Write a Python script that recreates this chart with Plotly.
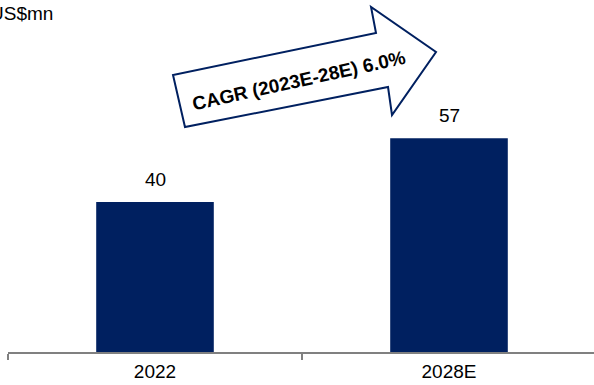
import plotly.graph_objects as go

# Market size data (US$ mn)
years = ["2022", "2028E"]
market_size = [40, 57]
cagr_label = "CAGR (2023E-28E) 6.0%"
unit_label = "US$mn"

BAR_COLOR = "#002060"
FONT = "Arial, Liberation Sans, sans-serif"

W, H = 594, 385
L, B, T, R = 8, 33, 0, 0
plot_w = W - L - R
plot_h = H - B - T


def px(x, y):
    """Convert page pixel position into paper coordinates."""
    return (x - L) / plot_w, (H - B - y) / plot_h


fig = go.Figure()
fig.add_trace(go.Bar(
    x=years,
    y=market_size,
    marker=dict(color=BAR_COLOR, line=dict(width=0)),
    width=0.4,
))

# value labels above bars (category index used as x position)
for i, v in enumerate(market_size):
    fig.add_annotation(
        x=i, y=v, text=str(v), showarrow=False,
        yanchor="bottom", yshift=10,
        font=dict(family=FONT, size=19, color="#000000"),
    )

# block arrow for the CAGR call-out
arrow_pts = [(185, 127), (173, 75), (376, 33), (371, 7), (436, 52), (392, 115), (388, 87)]
path = "M " + " L ".join(f"{px(x, y)[0]:.4f},{px(x, y)[1]:.4f}" for x, y in arrow_pts) + " Z"
fig.add_shape(
    type="path", path=path, xref="paper", yref="paper",
    line=dict(color=BAR_COLOR, width=2), fillcolor="white", layer="above",
)
cx, cy = px(299, 80)
fig.add_annotation(
    x=cx, y=cy, xref="paper", yref="paper", text=f"<b>{cagr_label}</b>",
    showarrow=False, textangle=-12.5, xanchor="center", yanchor="middle",
    font=dict(family=FONT, size=19, color="#000000"),
)

# unit label in the top-left corner
ux, uy = px(-12, 13)
fig.add_annotation(
    x=ux, y=uy, xref="paper", yref="paper", text=unit_label,
    showarrow=False, xanchor="left", yanchor="middle",
    font=dict(family=FONT, size=19, color="#000000"),
)

fig.update_layout(
    width=W, height=H,
    margin=dict(l=L, r=R, t=T, b=B, pad=0),
    plot_bgcolor="white", paper_bgcolor="white",
    showlegend=False,
    bargap=0.6,
)
fig.update_xaxes(
    type="category",
    range=[-0.5, 1.5 - 2 / 294],
    showline=True, linecolor="#808080", linewidth=2,
    ticks="outside", tickson="boundaries", ticklen=6, tickwidth=2, tickcolor="#808080",
    showgrid=False, zeroline=False,
    ticklabelstandoff=1,
    tickfont=dict(family=FONT, size=19, color="#000000"),
)
fig.update_yaxes(
    range=[0, plot_h / 3.75],
    visible=False, showgrid=False, zeroline=False,
)

fig.write_html("out.html")
